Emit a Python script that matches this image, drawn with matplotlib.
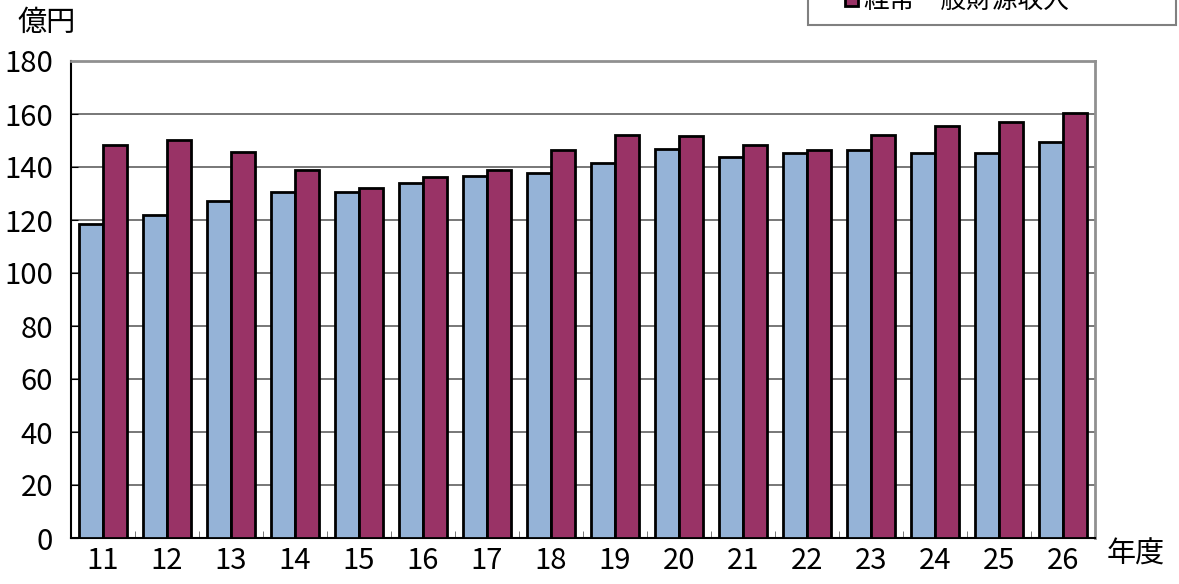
import numpy as np
import matplotlib.pyplot as plt
from matplotlib.patches import Rectangle

plt.rcParams['font.family'] = ['Noto Sans CJK JP', 'DejaVu Sans']

# fiscal years (Heisei)
years = ['11', '12', '13', '14', '15', '16', '17', '18',
         '19', '20', '21', '22', '23', '24', '25', '26']

# 億円
expense = [118.4, 122.0, 127.3, 130.4, 130.4, 133.8, 136.6, 137.7,
           141.6, 146.8, 143.6, 145.2, 146.3, 145.2, 145.4, 149.4]
revenue = [148.3, 150.2, 145.5, 138.8, 132.2, 136.3, 139.0, 146.3,
           152.1, 151.8, 148.4, 146.6, 152.1, 155.5, 157.0, 160.4]

labels = ['経常経費充当一般財源', '経常一般財源収入']

W, H = 1179, 584
fig = plt.figure(figsize=(W / 100, H / 100), dpi=100)
ax = fig.add_axes([71 / W, 1 - 538 / H, (1095 - 71) / W, (538 - 61) / H])

x = np.arange(len(years))
w = 0.37
b1 = ax.bar(x - w / 2, expense, w, color='#95B3D7', edgecolor='black', linewidth=2,
            label=labels[0], zorder=3)
b2 = ax.bar(x + w / 2, revenue, w, color='#993366', edgecolor='black', linewidth=2,
            label=labels[1], zorder=3)

ax.set_xlim(-0.5, len(years) - 0.5)
ax.set_ylim(0, 180)
ax.set_yticks(range(0, 181, 20))
ax.yaxis.grid(True, color='#606060', linewidth=1.2, zorder=0)

ax.set_xticks(x)
ax.set_xticklabels(years)
ax.set_xticks(np.arange(0.5, len(years) - 0.5, 1), minor=True)
ax.tick_params(axis='x', which='major', length=0, pad=6, labelsize=21)
ax.tick_params(axis='x', which='minor', direction='in', length=5, color='#606060')
ax.tick_params(axis='y', direction='in', length=5, labelsize=21, pad=13)

ax.spines['left'].set_color('black')
ax.spines['left'].set_linewidth(1.5)
ax.spines['bottom'].set_color('black')
ax.spines['bottom'].set_linewidth(1.5)
ax.spines['top'].set_color('#909090')
ax.spines['top'].set_linewidth(2)
ax.spines['right'].set_color('#909090')
ax.spines['right'].set_linewidth(2)

fig.text(17 / W, 1 - 23 / H, '億円', fontsize=21, va='center', ha='left')
fig.text(1107 / W, 1 - 555 / H, '年度', fontsize=21, va='center', ha='left')

# legend box, its top lies above the picture
fig.patches.append(Rectangle((808 / W, 1 - 25 / H), (1176 - 808) / W, 0.2,
                             transform=fig.transFigure, facecolor='white',
                             edgecolor='#808080', linewidth=1.5))
fig.legend(handles=[b1, b2], loc='lower left',
           bbox_to_anchor=(845 / W, 1 - 14 / H),
           fontsize=18.5, frameon=False, handlelength=0.5, handleheight=0.5,
           handletextpad=0.2, borderpad=0, borderaxespad=0, labelspacing=0.5)

fig.savefig('out.png', dpi=100)
